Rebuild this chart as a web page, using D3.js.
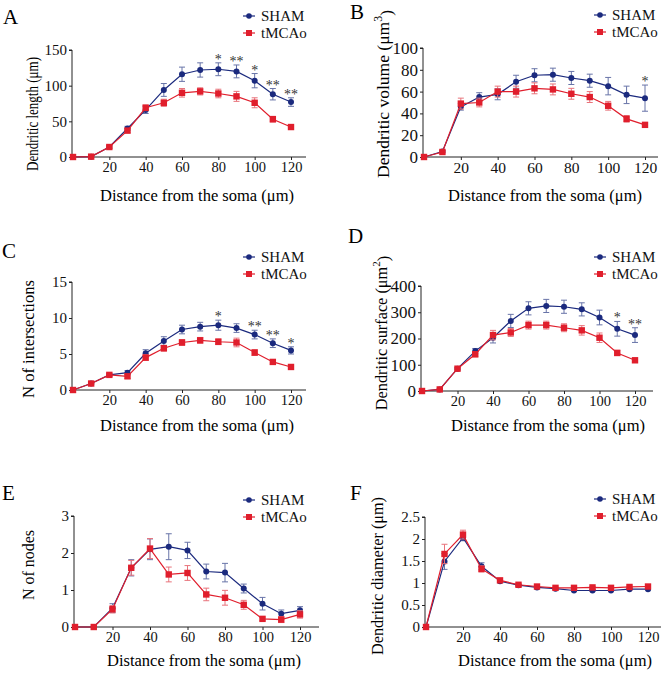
<!DOCTYPE html>
<html><head><meta charset="utf-8">
<script src="https://cdn.jsdelivr.net/npm/d3@7"></script>
<style>
html,body{margin:0;padding:0;background:#fff;}
svg{display:block;font-family:"Liberation Serif","Times New Roman",serif;}
</style></head>
<body><svg id="chart" width="666" height="674"></svg>
<script>
// ---------- data ----------
const distances = [0, 10, 20, 30, 40, 50, 60, 70, 80, 90, 100, 110, 120];
const xTicks = [20, 40, 60, 80, 100, 120];
const seriesNames = ["SHAM", "tMCAo"];

// A: dendritic length
const lengthSham      = [0, 0.5, 14, 40, 66, 94, 116, 122, 123, 120, 107, 88, 77];
const lengthShamErr   = [0, 0.5, 2, 3, 5, 9, 10, 10, 9, 9, 10, 8, 6];
const lengthTmcao     = [0, 0.5, 14, 37, 69, 76, 90, 92, 89, 85, 76, 53, 42];
const lengthTmcaoErr  = [0, 0.5, 2, 3, 4, 5, 6, 5, 6, 7, 7, 4, 3];
const lengthStars     = ["", "", "", "", "", "", "", "", "*", "**", "*", "**", "**"];
const lengthTicks     = [0, 50, 100, 150];

// B: dendritic volume
const volumeSham      = [0, 5, 46, 55, 57.5, 69, 75, 75.5, 72.5, 70, 65, 57, 54];
const volumeShamErr   = [0, 1, 3, 4, 5, 6, 6, 6, 6, 6, 8, 8, 12];
const volumeTmcao     = [0, 4.6, 49, 50, 60, 60, 63, 62, 58, 55, 47, 35, 29.5];
const volumeTmcaoErr  = [0, 1, 5, 4, 5, 5, 5, 5, 5, 5, 4, 3, 2];
const volumeStars     = ["", "", "", "", "", "", "", "", "", "", "", "", "*"];
const volumeTicks     = [0, 20, 40, 60, 80, 100];

// C: intersections
const intersSham      = [0, 0.9, 2.1, 2.4, 5.1, 6.8, 8.4, 8.8, 9.0, 8.6, 7.7, 6.5, 5.5];
const intersShamErr   = [0, 0.1, 0.2, 0.3, 0.5, 0.6, 0.6, 0.6, 0.7, 0.6, 0.6, 0.6, 0.5];
const intersTmcao     = [0, 0.9, 2.1, 1.9, 4.5, 5.8, 6.6, 6.9, 6.7, 6.6, 5.2, 3.9, 3.2];
const intersTmcaoErr  = [0, 0.1, 0.2, 0.3, 0.4, 0.4, 0.4, 0.4, 0.4, 0.6, 0.4, 0.3, 0.3];
const intersStars     = ["", "", "", "", "", "", "", "", "*", "", "**", "**", "*"];
const intersTicks     = [0, 5, 10, 15];

// D: dendritic surface
const surfaceSham     = [0, 6, 85, 152, 203, 267, 315, 324, 321, 311, 280, 237, 213];
const surfaceShamErr  = [0, 2, 5, 10, 20, 25, 25, 25, 25, 25, 28, 28, 28];
const surfaceTmcao    = [0, 6, 85, 140, 213, 223, 251, 251, 241, 231, 203, 145, 117];
const surfaceTmcaoErr = [0, 2, 5, 10, 18, 15, 15, 15, 15, 18, 18, 10, 8];
const surfaceStars    = ["", "", "", "", "", "", "", "", "", "", "", "*", "**"];
const surfaceTicks    = [0, 100, 200, 300, 400];

// E: nodes
const nodesSham       = [0, 0, 0.51, 1.6, 2.1, 2.17, 2.07, 1.5, 1.47, 1.04, 0.63, 0.36, 0.45];
const nodesShamErr    = [0, 0, 0.12, 0.22, 0.28, 0.35, 0.22, 0.2, 0.25, 0.12, 0.17, 0.1, 0.1];
const nodesTmcao      = [0, 0, 0.48, 1.6, 2.12, 1.42, 1.46, 0.88, 0.79, 0.6, 0.22, 0.2, 0.34];
const nodesTmcaoErr   = [0, 0, 0.1, 0.2, 0.27, 0.2, 0.2, 0.17, 0.2, 0.12, 0.05, 0.08, 0.1];
const nodesStars      = ["", "", "", "", "", "", "", "", "", "", "", "", ""];
const nodesTicks      = [0, 1, 2, 3];

// F: dendritic diameter
const diameterSham     = [0, 1.49, 2.03, 1.38, 1.04, 0.95, 0.9, 0.87, 0.83, 0.83, 0.83, 0.86, 0.86];
const diameterShamErr  = [0, 0.18, 0.07, 0.08, 0.03, 0.02, 0.02, 0.02, 0.02, 0.02, 0.02, 0.02, 0.02];
const diameterTmcao    = [0, 1.66, 2.1, 1.32, 1.06, 0.96, 0.92, 0.89, 0.89, 0.9, 0.89, 0.91, 0.92];
const diameterTmcaoErr = [0, 0.22, 0.1, 0.07, 0.03, 0.02, 0.02, 0.02, 0.02, 0.02, 0.02, 0.02, 0.02];
const diameterStars    = ["", "", "", "", "", "", "", "", "", "", "", "", ""];
const diameterTicks    = [0, 0.5, 1, 1.5, 2, 2.5];

// ---------- layout / style ----------
const COL_SHAM = "#1b2a7e", COL_SHAM_ERR = "#6874a8";
const COL_TM = "#e01e2c", COL_TM_ERR = "#e8737b";

const panels = [
  {letter:"A", lx:3, ly:24, ylab:["Dendritic length (\u03bcm)"], ycx:32, ycy:114, ylf:16, ylen:114,
   x0:73, x1:291, xend:306, y0:157, y1:50, ymax:150, ticks:lengthTicks, ytf:15, xtf:14.5,
   xlx:197, xly:195, legX:249, legY:16,
   s:lengthSham, se:lengthShamErr, t:lengthTmcao, te:lengthTmcaoErr, stars:lengthStars},
  {letter:"B", lx:350, ly:19, ylab:["Dendritic volume (\u03bcm", "3", ")"], ycx:383, ycy:94, ylf:17.5,
   x0:424, x1:645, xend:658, y0:157, y1:48, ymax:100, ticks:volumeTicks, ytf:17, xtf:15.5,
   xlx:545, xly:195, legX:600, legY:15,
   s:volumeSham, se:volumeShamErr, t:volumeTmcao, te:volumeTmcaoErr, stars:volumeStars},
  {letter:"C", lx:2, ly:258, ylab:["N of intersections"], ycx:28, ycy:339, ylf:16.5, ylen:118,
   x0:73, x1:291, xend:306, y0:390, y1:282, ymax:15, ticks:intersTicks, ytf:15, xtf:14.5,
   xlx:197, xly:425, legX:249, legY:257,
   s:intersSham, se:intersShamErr, t:intersTmcao, te:intersTmcaoErr, stars:intersStars},
  {letter:"D", lx:348, ly:243, ylab:["Dendritic surface (\u03bcm", "2", ")"], ycx:381, ycy:333, ylf:16.3,
   x0:422, x1:635, xend:653, y0:391, y1:286, ymax:400, ticks:surfaceTicks, ytf:17, xtf:14.5,
   xlx:548, xly:425, legX:600, legY:257,
   s:surfaceSham, se:surfaceShamErr, t:surfaceTmcao, te:surfaceTmcaoErr, stars:surfaceStars},
  {letter:"E", lx:2, ly:500, ylab:["N of nodes"], ycx:28, ycy:565, ylf:16, ylen:70,
   x0:75, x1:300, xend:319, y0:627, y1:516, ymax:3, ticks:nodesTicks, ytf:15, xtf:14.5,
   xlx:204, xly:660, legX:249, legY:500,
   s:nodesSham, se:nodesShamErr, t:nodesTmcao, te:nodesTmcaoErr, stars:nodesStars},
  {letter:"F", lx:350, ly:500, ylab:["Dendritic diameter (\u03bcm)"], ycx:377, ycy:576, ylf:16, ylen:158,
   x0:426, x1:648, xend:661, y0:627, y1:517, ymax:2.5, ticks:diameterTicks, ytf:15, xtf:14.5,
   xlx:555, xly:660, legX:600, legY:499,
   s:diameterSham, se:diameterShamErr, t:diameterTmcao, te:diameterTmcaoErr, stars:diameterStars}
];

const svg = d3.select("#chart");

panels.forEach(p => {
  const g = svg.append("g");
  const x = d3.scaleLinear().domain([0, 120]).range([p.x0, p.x1]);
  const y = d3.scaleLinear().domain([0, p.ymax]).range([p.y0, p.y1]);
  const axX = p.x0 - 1;

  // y axis
  const ya = g.append("g").attr("transform", `translate(${axX},0)`)
    .call(d3.axisLeft(y).tickValues(p.ticks).tickSize(3).tickPadding(2).tickFormat(d3.format("~g")));
  ya.select(".domain").attr("d", `M-3,${p.y1}H0V${p.y0}`);
  // x axis
  const xa = g.append("g").attr("transform", `translate(0,${p.y0})`)
    .call(d3.axisBottom(x).tickValues(xTicks).tickSize(3).tickPadding(2));
  xa.select(".domain").attr("d", `M${axX},0H${p.xend}`);
  [ya, xa].forEach(a => {
    a.attr("font-family", null).attr("font-size", null);
    a.selectAll("line,path").attr("stroke", "#222").attr("stroke-width", 1);
    a.selectAll("text").attr("fill", "#111");
  });
  ya.selectAll("text").style("font-size", p.ytf + "px");
  xa.selectAll("text").style("font-size", p.xtf + "px");

  // labels
  g.append("text").attr("x", p.lx).attr("y", p.ly).style("font-size", "21px").text(p.letter);
  const yl = g.append("text")
    .attr("transform", `translate(${p.ycx},${p.ycy}) rotate(-90)`)
    .attr("text-anchor", "middle").attr("dominant-baseline", "central")
    .style("font-size", p.ylf + "px");
  if (p.ylab.length > 1) {
    yl.append("tspan").text(p.ylab[0]);
    yl.append("tspan").attr("dy", "-0.45em").style("font-size", (p.ylf * 0.68) + "px").text(p.ylab[1]);
    yl.append("tspan").attr("dy", (p.ylf * 0.45) + "px").text(p.ylab[2]);
  } else {
    yl.attr("textLength", p.ylen).attr("lengthAdjust", "spacingAndGlyphs").text(p.ylab[0]);
  }
  g.append("text").attr("x", p.xlx).attr("y", p.xly).attr("text-anchor", "middle")
    .attr("dominant-baseline", "central").style("font-size", "16.5px")
    .text("Distance from the soma (\u03bcm)");

  const pts = (vals, errs) => distances.map((d, i) => ({d, v: vals[i], e: errs[i], i}));
  const line = d3.line().x(d => x(d.d)).y(d => y(d.v));

  function drawSeries(vals, errs, col, errCol, shape) {
    const data = pts(vals, errs);
    const eb = g.append("g").attr("stroke", errCol).attr("stroke-width", 1).attr("fill", "none");
    data.filter(d => d.e > 0).forEach(d => {
      eb.append("line").attr("x1", x(d.d)).attr("x2", x(d.d)).attr("y1", y(d.v - d.e)).attr("y2", y(d.v + d.e));
      eb.append("line").attr("x1", x(d.d) - 3).attr("x2", x(d.d) + 3).attr("y1", y(d.v + d.e)).attr("y2", y(d.v + d.e));
      eb.append("line").attr("x1", x(d.d) - 3).attr("x2", x(d.d) + 3).attr("y1", y(d.v - d.e)).attr("y2", y(d.v - d.e));
    });
    g.append("path").datum(data).attr("d", line).attr("fill", "none").attr("stroke", col).attr("stroke-width", 1.2);
    if (shape === "circle") {
      g.selectAll(null).data(data).enter().append("circle")
        .attr("cx", d => x(d.d)).attr("cy", d => y(d.v)).attr("r", 3).attr("fill", col);
    } else {
      g.selectAll(null).data(data).enter().append("rect")
        .attr("x", d => x(d.d) - 3.2).attr("y", d => y(d.v) - 3.2).attr("width", 6.4).attr("height", 6.4).attr("fill", col);
    }
  }
  drawSeries(p.s, p.se, COL_SHAM, COL_SHAM_ERR, "circle");
  drawSeries(p.t, p.te, COL_TM, COL_TM_ERR, "square");

  // significance stars
  distances.forEach((d, i) => {
    if (!p.stars[i]) return;
    g.append("text").attr("x", x(d)).attr("y", y(p.s[i] + p.se[i]) + 1)
      .attr("text-anchor", "middle").style("font-size", "14px").attr("fill", "#333")
      .text(p.stars[i]);
  });

  // legend
  const legend = [[seriesNames[0], COL_SHAM, "circle"], [seriesNames[1], COL_TM, "square"]];
  legend.forEach((l, k) => {
    const ly = p.legY + k * 17;
    g.append("line").attr("x1", p.legX - 6).attr("x2", p.legX + 6).attr("y1", ly).attr("y2", ly)
      .attr("stroke", l[1]).attr("stroke-width", 1.2);
    if (l[2] === "circle") g.append("circle").attr("cx", p.legX).attr("cy", ly).attr("r", 2.8).attr("fill", l[1]);
    else g.append("rect").attr("x", p.legX - 3).attr("y", ly - 3).attr("width", 6).attr("height", 6).attr("fill", l[1]);
    g.append("text").attr("x", p.legX + 12).attr("y", ly).attr("dominant-baseline", "central")
      .style("font-size", "15px").attr("fill", "#111").text(l[0]);
  });
});
</script></body></html>
